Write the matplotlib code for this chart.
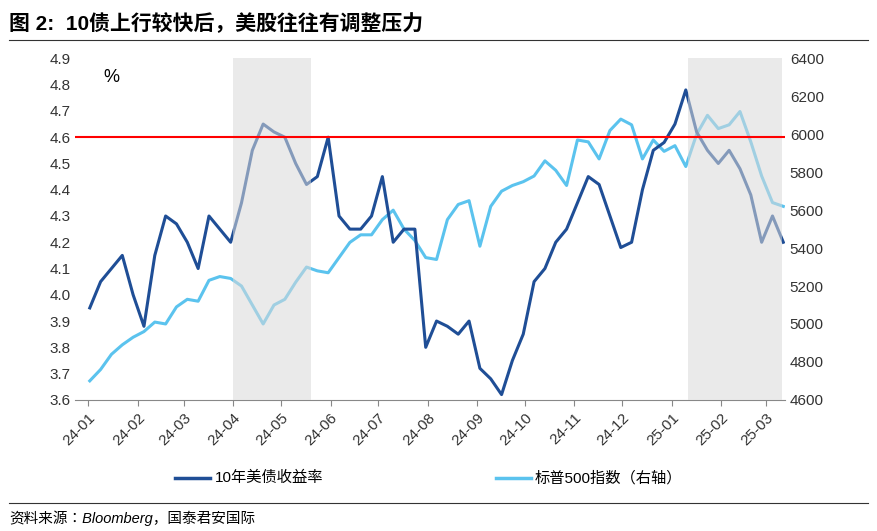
import matplotlib.pyplot as plt
import matplotlib.dates as mdates
from matplotlib import font_manager
import pandas as pd

cjk = [f.name for f in font_manager.fontManager.ttflist if "CJK" in f.name]
cjk_font = "Noto Sans CJK SC" if "Noto Sans CJK SC" in cjk else (cjk[0] if cjk else "DejaVu Sans")
plt.rcParams["font.family"] = ["Liberation Sans", cjk_font]

# weekly-ish readings, Jan 2024 .. mid Mar 2025
yield_10y = [3.95, 4.05, 4.1, 4.15, 4.0,
             3.88, 4.15, 4.3, 4.27,
             4.2, 4.1, 4.3, 4.25, 4.2,
             4.35, 4.55, 4.65, 4.62,
             4.6, 4.5, 4.42, 4.45, 4.6,
             4.3, 4.25, 4.25, 4.3,
             4.45, 4.2, 4.25, 4.25,
             3.8, 3.9, 3.88, 3.85, 3.9,
             3.72, 3.68, 3.62, 3.75,
             3.85, 4.05, 4.1, 4.2, 4.25,
             4.35, 4.45, 4.42, 4.3,
             4.18, 4.2, 4.4, 4.55, 4.58,
             4.65, 4.78, 4.62, 4.55,
             4.5, 4.55, 4.48, 4.38,
             4.2, 4.3, 4.2]
spx = [4700, 4760, 4840, 4890, 4930,
       4960, 5010, 5000, 5090,
       5130, 5120, 5230, 5250, 5240,
       5200, 5100, 5000, 5100,
       5130, 5220, 5300, 5280, 5270,
       5350, 5430, 5470, 5470,
       5550, 5600, 5500, 5440,
       5350, 5340, 5550, 5630, 5650,
       5410, 5620, 5700, 5730,
       5750, 5780, 5860, 5810, 5730,
       5970, 5960, 5870, 6020,
       6080, 6050, 5870, 5970, 5910,
       5940, 5830, 6000, 6100,
       6030, 6050, 6120, 5960,
       5780, 5640, 5620]
dates = pd.date_range("2024-01-02", "2025-03-12", periods=len(yield_10y))
shade_periods = [("2024-04-01", "2024-05-20"), ("2025-01-11", "2025-03-11")]
threshold = 4.6

fig = plt.figure(figsize=(8.77, 5.31), dpi=100)
ax = fig.add_axes([0.086, 0.247, 0.809, 0.643])
ax2 = ax.twinx()

ax.plot(dates, yield_10y, color="#1F4E96", lw=2.2, zorder=3)
ax2.plot(dates, spx, color="#5BC3EE", lw=2.2, zorder=2)
ax.set_zorder(ax2.get_zorder() + 1)
ax.patch.set_visible(False)
for a, b in shade_periods:
    ax.axvspan(pd.Timestamp(a), pd.Timestamp(b), color="#D9D9D9", alpha=0.55, lw=0, zorder=4)
ax.axhline(threshold, color="#FF0000", lw=1.5, zorder=5)

ax.set_ylim(3.6, 4.9)
ax.set_yticks([3.6 + 0.1 * i for i in range(14)])
ax.yaxis.set_major_formatter(plt.FormatStrFormatter("%.1f"))
ax2.set_ylim(4600, 6400)
ax2.set_yticks(range(4600, 6401, 200))
ax.set_xlim(pd.Timestamp("2023-12-24"), pd.Timestamp("2025-03-13"))
ax.xaxis.set_major_locator(mdates.MonthLocator())
ax.xaxis.set_major_formatter(mdates.DateFormatter("%y-%m"))
for lab in ax.get_xticklabels():
    lab.set_rotation(45)
    lab.set_ha("right")
    lab.set_rotation_mode("anchor")
for a in (ax, ax2):
    a.tick_params(labelsize=11, length=0, colors="#333333")
    for s in a.spines.values():
        s.set_visible(False)
ax.spines["bottom"].set_visible(True)
ax.spines["bottom"].set_color("#888888")
ax.tick_params(axis="x", length=4, color="#888888")
ax.text(0.04, 0.93, "%", transform=ax.transAxes, fontsize=13)

fig.text(0.01, 0.955, "图 2:  10债上行较快后，美股往往有调整压力", fontsize=15,
         fontweight="bold", va="center")
fig.add_artist(plt.Line2D([0.01, 0.99], [0.925, 0.925], color="#333333", lw=0.8))
fig.add_artist(plt.Line2D([0.2, 0.24], [0.1, 0.1], color="#1F4E96", lw=2.5))
fig.text(0.245, 0.1, "10年美债收益率", fontsize=11, va="center")
fig.add_artist(plt.Line2D([0.565, 0.605], [0.1, 0.1], color="#5BC3EE", lw=2.5))
fig.text(0.61, 0.1, "标普500指数（右轴）", fontsize=11, va="center")
fig.add_artist(plt.Line2D([0.01, 0.99], [0.052, 0.052], color="#333333", lw=0.8))
fig.text(0.01, 0.025, "资料来源：Bloomberg，国泰君安国际", fontsize=10.5, style="italic",
         va="center")

fig.savefig("out.png", dpi=100)
